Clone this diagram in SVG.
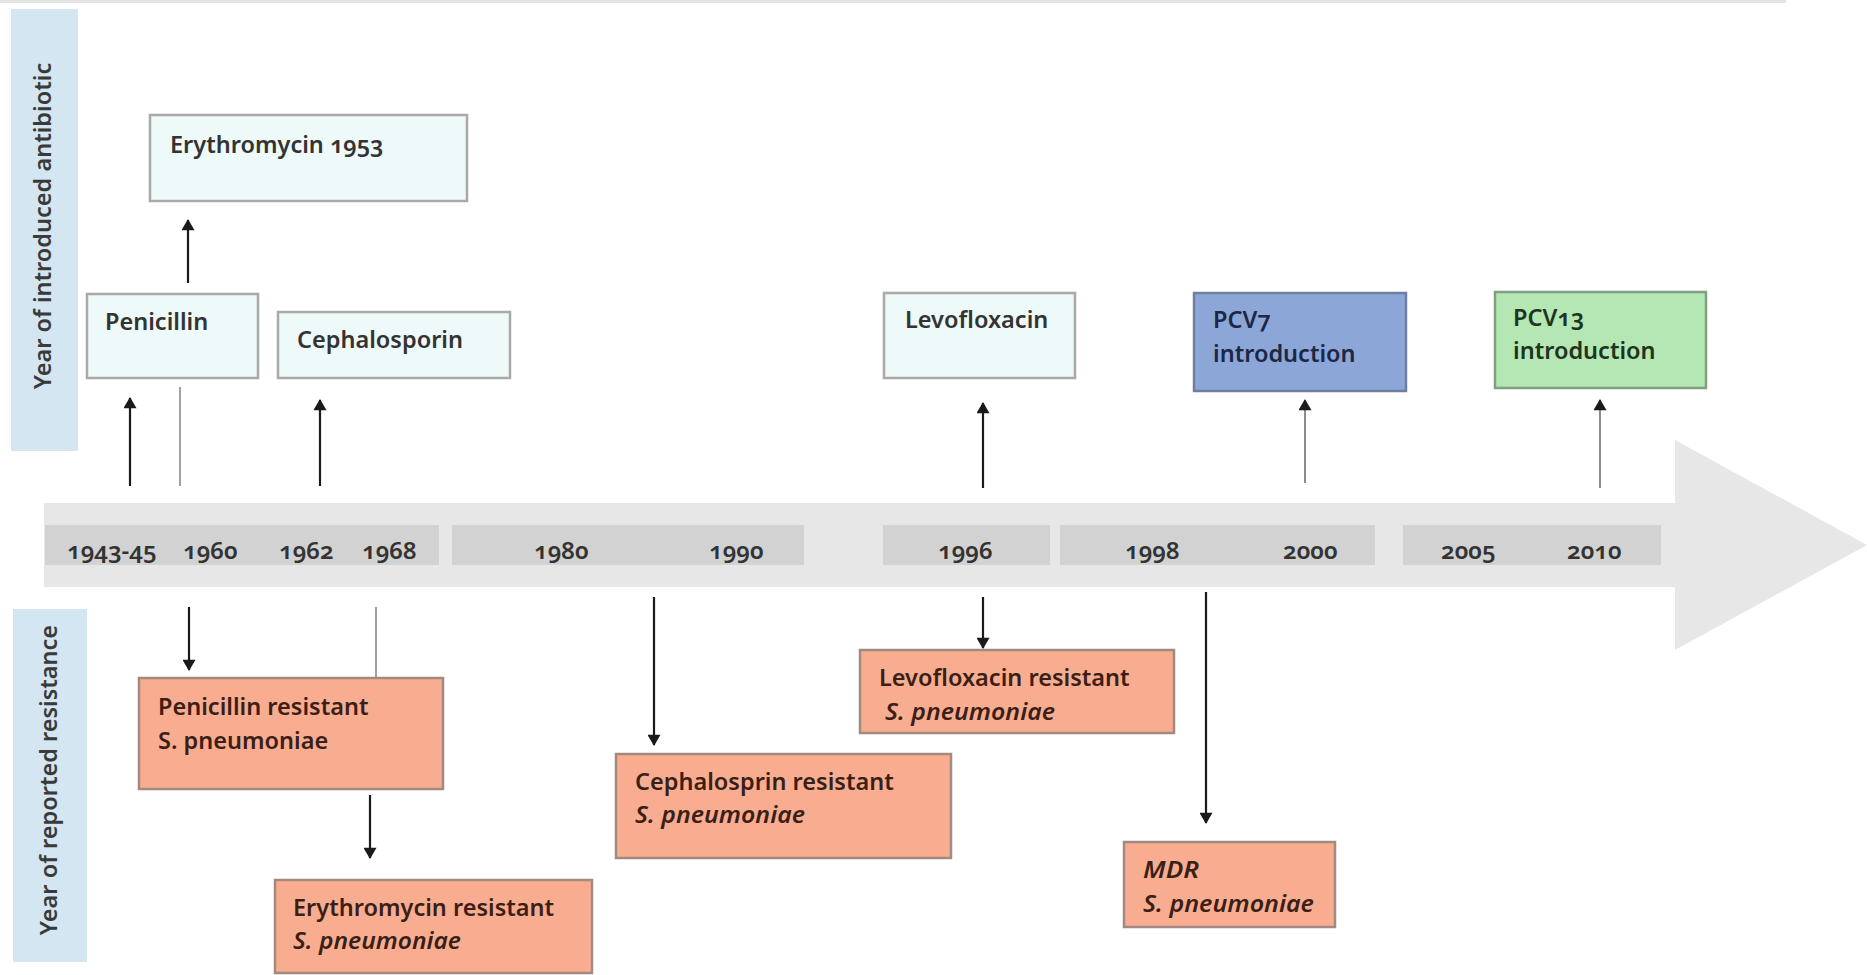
<svg xmlns="http://www.w3.org/2000/svg" width="1867" height="975" viewBox="0 0 1867 975">
  <style>
    text { font-family: "Noto Sans", "Open Sans", "Liberation Sans", sans-serif; font-weight: 600; font-size: 23.5px; font-variant-numeric: oldstyle-nums; font-feature-settings: "onum" 1; }
    .band { fill: #d3e6f1; }
    .band-label { fill: #3a3a3a; font-size: 23.5px; text-anchor: middle; }
    .drug rect { fill: #eef9f9; stroke: #a9a9a9; stroke-width: 2.5; }
    .drug text { fill: #333333; }
    .res rect { fill: #f8ad91; stroke: #a38a80; stroke-width: 2.5; }
    .res text { fill: #3b1f16; }
    .it { font-style: italic; }
    .year { fill: #333333; font-size: 24px; }
    .seg { fill: #d2d2d2; }
    .arrow { stroke: #1a1a1a; stroke-width: 2.2; fill: none; marker-end: url(#head); }
    .arrow-grey { stroke: #6f6f6f; stroke-width: 1.6; fill: none; marker-end: url(#head); }
    .rule { stroke: #8a8a8a; stroke-width: 1.6; fill: none; }
  </style>
  <defs>
    <marker id="head" viewBox="0 0 12 14" refX="11" refY="7" markerWidth="12" markerHeight="13" markerUnits="userSpaceOnUse" orient="auto">
      <path d="M0,0 L12,7 L0,14 Z" fill="#1a1a1a"/>
    </marker>
  </defs>

  <rect width="1867" height="975" fill="#ffffff"/>
  <!-- faint rule along the top edge -->
  <line x1="0" y1="1.5" x2="1786" y2="1.5" stroke="#e4e4e4" stroke-width="3"/>

  <!-- side labels -->
  <g id="label-introduced">
    <rect class="band" x="11" y="9" width="67" height="442"/>
    <text class="band-label" transform="translate(51,226) rotate(-90)">Year of introduced antibiotic</text>
  </g>
  <g id="label-resistance">
    <rect class="band" x="13" y="609" width="74" height="353"/>
    <text class="band-label" transform="translate(57,780) rotate(-90)">Year of reported resistance</text>
  </g>

  <!-- timeline arrow -->
  <g id="timeline">
    <polygon points="44,503 1675,503 1675,440 1867,545 1675,650 1675,587 44,587" fill="#e7e7e7"/>
    <rect class="seg" x="45" y="525" width="394" height="40"/>
    <rect class="seg" x="452" y="525" width="352" height="40"/>
    <rect class="seg" x="883" y="525" width="167" height="40"/>
    <rect class="seg" x="1060" y="525" width="315" height="40"/>
    <rect class="seg" x="1403" y="525" width="258" height="40"/>
    <text class="year" x="67" y="559">1943-45</text>
    <text class="year" x="183" y="559">1960</text>
    <text class="year" x="279" y="559">1962</text>
    <text class="year" x="362" y="559">1968</text>
    <text class="year" x="534" y="559">1980</text>
    <text class="year" x="709" y="559">1990</text>
    <text class="year" x="938" y="559">1996</text>
    <text class="year" x="1125" y="559">1998</text>
    <text class="year" x="1283" y="559">2000</text>
    <text class="year" x="1441" y="559">2005</text>
    <text class="year" x="1567" y="559">2010</text>
  </g>

  <!-- introduced antibiotics -->
  <g id="erythromycin" class="drug">
    <rect x="150" y="115" width="317" height="86"/>
    <text x="170" y="153">Erythromycin 1953</text>
  </g>
  <g id="penicillin" class="drug">
    <rect x="87" y="294" width="171" height="84"/>
    <text x="105" y="330">Penicillin</text>
  </g>
  <g id="cephalosporin" class="drug">
    <rect x="278" y="312" width="232" height="66"/>
    <text x="297" y="348">Cephalosporin</text>
  </g>
  <g id="levofloxacin" class="drug">
    <rect x="884" y="293" width="191" height="85"/>
    <text x="905" y="328">Levofloxacin</text>
  </g>
  <g id="pcv7">
    <rect x="1194" y="293" width="212" height="98" fill="#8ca6d8" stroke="#6f7f9f" stroke-width="2.5"/>
    <text x="1213" y="328" fill="#1c2844">PCV7</text>
    <text x="1213" y="362" fill="#1c2844">introduction</text>
  </g>
  <g id="pcv13">
    <rect x="1495" y="292" width="211" height="96" fill="#b4e7b3" stroke="#7f9f7f" stroke-width="2.5"/>
    <text x="1513" y="326" fill="#1f3320">PCV13</text>
    <text x="1513" y="359" fill="#1f3320">introduction</text>
  </g>

  <!-- reported resistance -->
  <g id="penicillin-resistant" class="res">
    <rect x="139" y="678" width="304" height="111"/>
    <text x="158" y="715">Penicillin resistant</text>
    <text x="158" y="749">S. pneumoniae</text>
  </g>
  <g id="erythromycin-resistant" class="res">
    <rect x="275" y="880" width="317" height="93"/>
    <text x="293" y="916">Erythromycin resistant</text>
    <text x="293" y="949" class="it" textLength="168" lengthAdjust="spacingAndGlyphs">S. pneumoniae</text>
  </g>
  <g id="cephalosporin-resistant" class="res">
    <rect x="616" y="754" width="335" height="104"/>
    <text x="635" y="790">Cephalosprin resistant</text>
    <text x="635" y="823" class="it" textLength="170" lengthAdjust="spacingAndGlyphs">S. pneumoniae</text>
  </g>
  <g id="levofloxacin-resistant" class="res">
    <rect x="860" y="650" width="314" height="83"/>
    <text x="879" y="686">Levofloxacin resistant</text>
    <text x="885" y="720" class="it" textLength="170" lengthAdjust="spacingAndGlyphs">S. pneumoniae</text>
  </g>
  <g id="mdr" class="res">
    <rect x="1124" y="842" width="211" height="85"/>
    <text x="1143" y="878" class="it" textLength="56" lengthAdjust="spacingAndGlyphs">MDR</text>
    <text x="1143" y="912" class="it" textLength="171" lengthAdjust="spacingAndGlyphs">S. pneumoniae</text>
  </g>

  <!-- connectors -->
  <g id="connectors">
    <line class="arrow" x1="130" y1="486" x2="130" y2="398"/>
    <line class="rule" x1="180" y1="387" x2="180" y2="486"/>
    <line class="arrow" x1="188" y1="283" x2="188" y2="220"/>
    <line class="arrow" x1="320" y1="486" x2="320" y2="400"/>
    <line class="arrow" x1="983" y1="488" x2="983" y2="403"/>
    <line class="arrow-grey" x1="1305" y1="483" x2="1305" y2="400"/>
    <line class="arrow-grey" x1="1600" y1="488" x2="1600" y2="400"/>
    <line class="arrow" x1="189" y1="607" x2="189" y2="670"/>
    <line class="rule" x1="376" y1="607" x2="376" y2="678"/>
    <line class="arrow" x1="370" y1="795" x2="370" y2="858"/>
    <line class="arrow" x1="654" y1="597" x2="654" y2="745"/>
    <line class="arrow" x1="983" y1="597" x2="983" y2="648"/>
    <line class="arrow" x1="1206" y1="592" x2="1206" y2="823"/>
  </g>
</svg>
